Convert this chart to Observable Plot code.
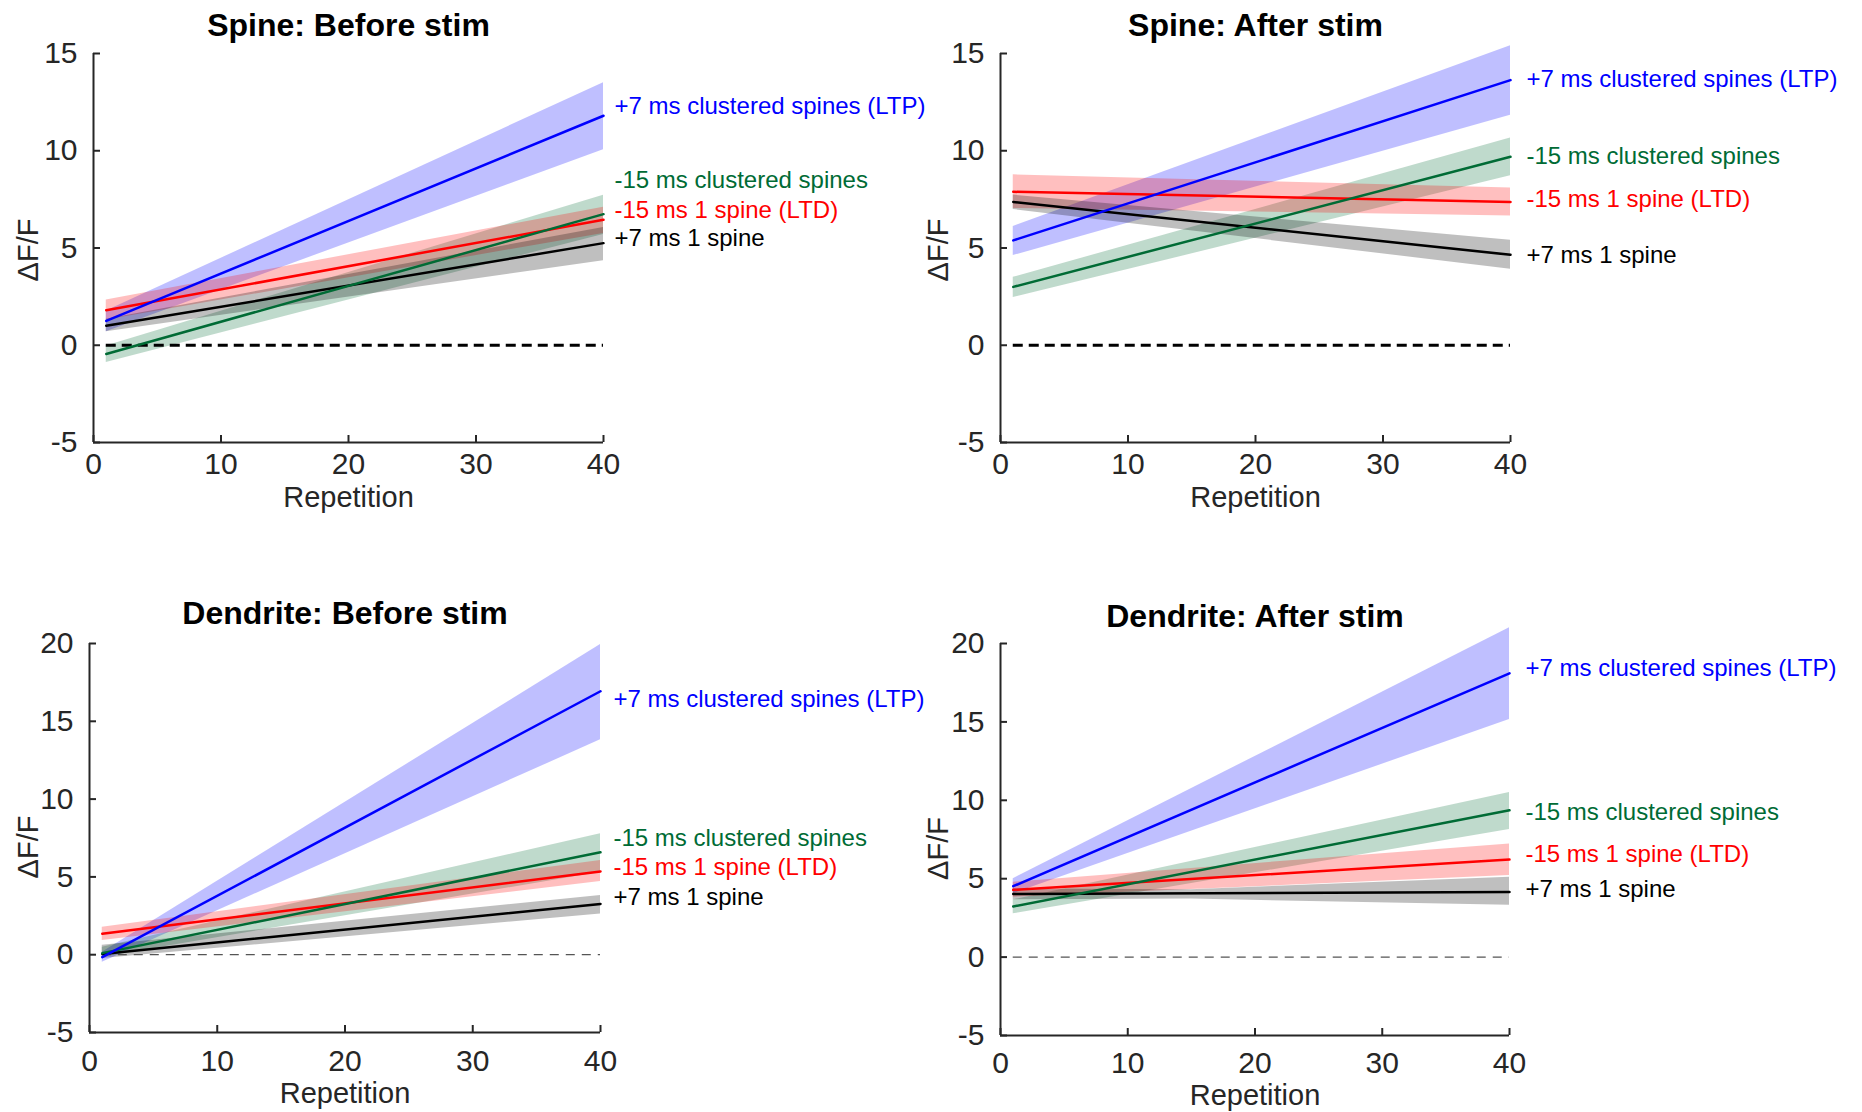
<!DOCTYPE html>
<html>
<head>
<meta charset="utf-8">
<script src="https://cdn.jsdelivr.net/npm/d3@7"></script>
<script src="https://cdn.jsdelivr.net/npm/@observablehq/plot@0.6"></script>
<style>
  html, body { margin: 0; padding: 0; background: #ffffff; }
  #chart { position: relative; width: 1862px; height: 1112px; background: #ffffff; }
  #chart svg { position: absolute; overflow: visible; }
</style>
</head>
<body>
<div id="chart"></div>
<script>
// ---------- data ----------
const seriesNames = ["+7 ms clustered spines (LTP)", "-15 ms clustered spines", "-15 ms 1 spine (LTD)", "+7 ms 1 spine"];
const seriesColors = ["#0000ff", "#006b35", "#ff0000", "#000000"];
const panelTitles = ["Spine: Before stim", "Spine: After stim", "Dendrite: Before stim", "Dendrite: After stim"];
const xTicks = [0, 10, 20, 30, 40];
const spineYTicks = [-5, 0, 5, 10, 15];
const dendriteYTicks = [-5, 0, 5, 10, 15, 20];
const spineYDomain = [-5, 15];
const dendriteYDomain = [-5, 20];
const xDomain = [0, 40];
const repetitionRange = [1, 40];   // fitted lines run from repetition 1 to 40
const xLabel = "Repetition";
const yLabel = "ΔF/F";

// fitted ΔF/F at repetition 1 and 40 (order of seriesNames)
const spineBeforeFit = [[1.25, 11.8], [-0.45, 6.74], [1.8, 6.45], [1.0, 5.25]];
const spineAfterFit = [[5.39, 13.63], [3.0, 9.69], [7.89, 7.37], [7.37, 4.65]];
const dendriteBeforeFit = [[-0.16, 16.93], [0.1, 6.58], [1.34, 5.35], [0.05, 3.26]];
const dendriteAfterFit = [[4.52, 18.1], [3.23, 9.36], [4.29, 6.22], [4.03, 4.15]];

// confidence bands: rows of [repetition, lower, upper]
const spineBeforeBand = [
  [[1, 0.7, 1.76], [40, 10.05, 13.5]],
  [[1, -0.89, -0.04], [40, 5.7, 7.71]],
  [[1, 1.3, 2.33], [40, 5.75, 7.1]],
  [[1, 0.7, 1.34], [40, 4.34, 6.05]]
];
const spineAfterBand = [
  [[1, 4.61, 6.11], [40, 11.83, 15.4]],
  [[1, 2.45, 3.49], [40, 8.71, 10.65]],
  [[1, 7.03, 8.76], [40, 6.65, 8.08]],
  [[1, 6.98, 7.72], [40, 3.91, 5.4]]
];
const dendriteBeforeBand = [
  [[1, -0.48, 0.16], [40, 13.81, 19.93]],
  [[1, -0.16, 0.48], [40, 5.3, 7.77]],
  [[1, 0.91, 1.77], [40, 4.7, 6.05]],
  [[1, -0.25, 0.6], [40, 2.62, 3.8]]
];
const dendriteAfterBand = [
  [[1, 4.04, 5.0], [40, 15.15, 21.0]],
  [[1, 2.76, 3.65], [40, 8.13, 10.5]],
  [[1, 3.82, 4.78], [40, 5.2, 7.22]],
  [[1, 3.65, 4.35], [15, 3.7, 4.3], [40, 3.3, 5.1]]
];

// ΔF/F height at which each series name is written
const spineBeforeLabelY = [12.3, 8.5, 6.95, 5.5];
const spineAfterLabelY = [13.65, 9.7, 7.48, 4.61];
const dendriteBeforeLabelY = [16.4, 7.45, 5.6, 3.68];
const dendriteAfterLabelY = [18.4, 9.22, 6.54, 4.3];

// ---------- layout (positions & styles) ----------
const FONT = "Arial, 'Liberation Sans', Helvetica, sans-serif";
const AXIS = "#262626";
const panels = [
  {title: panelTitles[0], fit: spineBeforeFit, band: spineBeforeBand, labelY: spineBeforeLabelY,
   yDomain: spineYDomain, yTicks: spineYTicks, left: 0, top: 0, width: 931, height: 556,
   mL: 93, mR: 328, mT: 53, mB: 114, titleDy: -28, xLabelDy: 55, yLabelDx: -65, yLabelDy: 2,
   xTickPad: 17, labelDx: 11, zero: {strokeWidth: 3.2, stroke: "#000", dash: "10,6"}},
  {title: panelTitles[1], fit: spineAfterFit, band: spineAfterBand, labelY: spineAfterLabelY,
   yDomain: spineYDomain, yTicks: spineYTicks, left: 931, top: 0, width: 931, height: 556,
   mL: 69, mR: 352, mT: 53, mB: 114, titleDy: -28, xLabelDy: 55, yLabelDx: -62, yLabelDy: 2,
   xTickPad: 17, labelDx: 16, zero: {strokeWidth: 3.2, stroke: "#000", dash: "10,6"}},
  {title: panelTitles[2], fit: dendriteBeforeFit, band: dendriteBeforeBand, labelY: dendriteBeforeLabelY,
   yDomain: dendriteYDomain, yTicks: dendriteYTicks, left: 0, top: 556, width: 931, height: 556,
   mL: 89, mR: 331, mT: 87, mB: 80, titleDy: -30, xLabelDy: 61, yLabelDx: -61, yLabelDy: 9,
   xTickPad: 24, labelDx: 13, zero: {strokeWidth: 1.2, stroke: "#555", dash: "9,7"}},
  {title: panelTitles[3], fit: dendriteAfterFit, band: dendriteAfterBand, labelY: dendriteAfterLabelY,
   yDomain: dendriteYDomain, yTicks: dendriteYTicks, left: 931, top: 556, width: 931, height: 556,
   mL: 69, mR: 353, mT: 87, mB: 77, titleDy: -27, xLabelDy: 60, yLabelDx: -62, yLabelDy: 9,
   xTickPad: 23, labelDx: 16, zero: {strokeWidth: 1.2, stroke: "#555", dash: "9,7"}}
];

const chart = document.getElementById("chart");

for (const p of panels) {
  const marks = [];
  // bands
  p.band.forEach((rows, i) => {
    const data = rows.map(([x, lo, hi]) => ({x, lo, hi}));
    marks.push(Plot.areaY(data, {x: "x", y1: "lo", y2: "hi", fill: seriesColors[i], fillOpacity: 0.25}));
  });
  // zero reference line
  marks.push(Plot.ruleY([0], {x1: () => repetitionRange[0], x2: () => repetitionRange[1],
    stroke: p.zero.stroke, strokeWidth: p.zero.strokeWidth, strokeDasharray: p.zero.dash}));
  // fitted lines (black, red, green, blue on top)
  [3, 2, 1, 0].forEach(i => {
    const data = repetitionRange.map((r, j) => ({x: r, y: p.fit[i][j]}));
    marks.push(Plot.line(data, {x: "x", y: "y", stroke: seriesColors[i], strokeWidth: 2.5}));
  });
  // axes lines
  marks.push(Plot.ruleX([xDomain[0]], {stroke: AXIS, strokeWidth: 2}));
  marks.push(Plot.ruleY([p.yDomain[0]], {stroke: AXIS, strokeWidth: 2}));
  marks.push(Plot.axisX({ticks: xTicks, tickSize: -7, tickPadding: p.xTickPad, tickFormat: d => String(d),
    fontSize: 30, color: AXIS, strokeWidth: 2, label: null}));
  marks.push(Plot.axisY({ticks: p.yTicks, tickSize: -7, tickPadding: 23, tickFormat: d => String(d),
    fontSize: 30, color: AXIS, strokeWidth: 2, label: null}));
  // series labels
  p.labelY.forEach((y, i) => {
    marks.push(Plot.text([{y, t: seriesNames[i]}], {x: () => repetitionRange[1], y: "y", text: "t",
      textAnchor: "start", dx: p.labelDx, fontSize: 24, fill: seriesColors[i]}));
  });
  // title and axis labels
  marks.push(Plot.text([p.title], {frameAnchor: "top", lineAnchor: "middle", dy: p.titleDy,
    fontSize: 32, fontWeight: "bold", fill: "#000"}));
  marks.push(Plot.text([xLabel], {frameAnchor: "bottom", lineAnchor: "middle", dy: p.xLabelDy,
    fontSize: 29, fill: AXIS}));
  marks.push(Plot.text([yLabel], {frameAnchor: "left", textAnchor: "middle", lineAnchor: "middle",
    dx: p.yLabelDx, dy: p.yLabelDy, rotate: -90, fontSize: 29, fill: AXIS}));

  const svg = Plot.plot({
    width: p.width, height: p.height,
    marginLeft: p.mL, marginRight: p.mR, marginTop: p.mT, marginBottom: p.mB,
    x: {domain: xDomain},
    y: {domain: p.yDomain},
    style: {fontFamily: FONT, background: "transparent", overflow: "visible"},
    marks
  });
  svg.style.left = p.left + "px";
  svg.style.top = p.top + "px";
  chart.appendChild(svg);
}
</script>
</body>
</html>
